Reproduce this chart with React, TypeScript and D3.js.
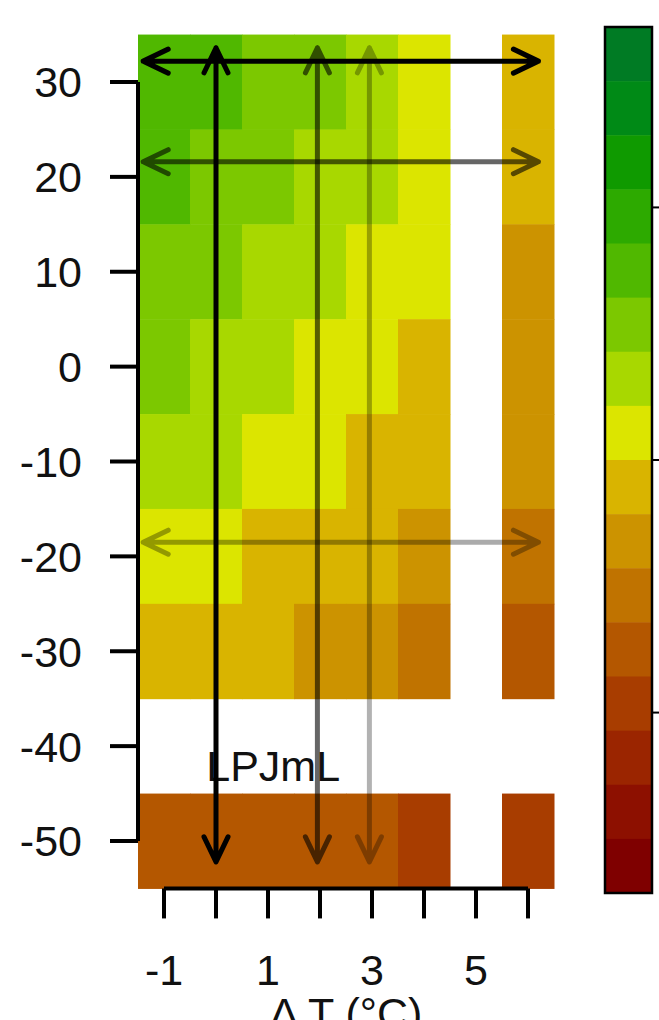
import React from "react";
import * as d3 from "d3";

const width = 659;
const height = 1020;

// precipitation change rows (top to bottom) and temperature change columns
const precipRows = [30, 20, 10, 0, -10, -20, -30, -40, -50];
const tempCols = [-1, 0, 1, 2, 3, 4, 5, 6];

// cell values per row, null = no data
const row30 = [0.5, 0.5, 0.4, 0.4, 0.2, 0.1, null, -0.1];
const row20 = [0.5, 0.4, 0.4, 0.2, 0.2, 0.1, null, -0.1];
const row10 = [0.4, 0.4, 0.2, 0.2, 0.1, 0.1, null, -0.2];
const row0 = [0.4, 0.2, 0.2, 0.1, 0.1, -0.1, null, -0.2];
const rowM10 = [0.2, 0.2, 0.1, 0.1, -0.1, -0.1, null, -0.2];
const rowM20 = [0.1, 0.1, -0.1, -0.1, -0.1, -0.2, null, -0.4];
const rowM30 = [-0.1, -0.1, -0.1, -0.2, -0.2, -0.4, null, -0.5];
const rowM40 = [null, null, null, null, null, null, null, null];
const rowM50 = [-0.5, -0.5, -0.5, -0.5, -0.5, -0.7, null, -0.7];
const cellValues = [row30, row20, row10, row0, rowM10, rowM20, rowM30, rowM40, rowM50];

// colour bar: 16 bins, listed from top (high) to bottom (low)
const binColors = [
  "#007b24", "#008a16", "#0f9a00", "#2daa00",
  "#50b800", "#7cc800", "#a8d800", "#dce500",
  "#d9b400", "#cc9300", "#c07300", "#b45700",
  "#a83d00", "#9b2500", "#8d1000", "#7f0000",
];
const colorDomain: [number, number] = [-1.2, 1.2];
const colorTicks = [-0.7, 0, 0.7];

// arrows
const hArrows = [
  { y: 32.2, alpha: 1 },
  { y: 21.6, alpha: 0.6 },
  { y: -18.5, alpha: 0.33 },
];
const vArrows = [
  { x: 0, alpha: 1 },
  { x: 1.95, alpha: 0.6 },
  { x: 2.95, alpha: 0.3 },
];
const hArrowSpan = [-1.4, 6.2];
const vArrowSpan = [33.6, -52.2];

const xLabels = [-1, 1, 3, 5];

const font = "'Liberation Sans', Arial, Helvetica, sans-serif";

const App = () => {
  const x = d3.scaleLinear().domain([-1, 6]).range([164, 528]);
  const y = d3.scaleLinear().domain([-50, 30]).range([841, 82]);
  const color = d3.scaleQuantize<string>().domain(colorDomain).range([...binColors].reverse());
  const cbY = d3.scaleLinear().domain(colorDomain).range([893, 27]);

  const plotLeft = x(-1.5);
  const plotRight = x(6.5);
  const plotBottom = y(-55);

  const head = 25;
  const half = 12;

  const hPath = (yv: number) => {
    const x0 = x(hArrowSpan[0]);
    const x1 = x(hArrowSpan[1]);
    const yy = y(yv);
    return `M${x0},${yy}L${x1},${yy}` +
      `M${x0 + head},${yy - half}L${x0},${yy}L${x0 + head},${yy + half}` +
      `M${x1 - head},${yy - half}L${x1},${yy}L${x1 - head},${yy + half}`;
  };
  const vPath = (xv: number) => {
    const y0 = y(vArrowSpan[0]);
    const y1 = y(vArrowSpan[1]);
    const xx = x(xv);
    return `M${xx},${y0}L${xx},${y1}` +
      `M${xx - half},${y0 + head}L${xx},${y0}L${xx + half},${y0 + head}` +
      `M${xx - half},${y1 - head}L${xx},${y1}L${xx + half},${y1 - head}`;
  };

  const binStep = (colorDomain[1] - colorDomain[0]) / binColors.length;

  return (
    <svg width={width} height={height} style={{ position: "absolute", left: 0, top: 0, background: "white" }} fontFamily={font}>
      {/* heatmap cells */}
      {cellValues.map((row, ri) =>
        row.map((v, ci) =>
          v === null ? null : (
            <rect
              key={`c${ri}-${ci}`}
              x={x(tempCols[ci] - 0.5)}
              y={y(precipRows[ri] + 5)}
              width={x(0.5) - x(-0.5) + 0.5}
              height={y(-5) - y(5) + 0.5}
              fill={color(v)}
            />
          )
        )
      )}

      <text x={x(1.1)} y={y(-43.7)} fontSize={43} textAnchor="middle" fill="#111">LPJmL</text>

      {/* arrows */}
      {hArrows.map((a, i) => (
        <path key={`h${i}`} d={hPath(a.y)} fill="none" stroke="black" strokeOpacity={a.alpha}
          strokeWidth={5} strokeLinecap="round" strokeLinejoin="round" />
      ))}
      {vArrows.map((a, i) => (
        <path key={`v${i}`} d={vPath(a.x)} fill="none" stroke="black" strokeOpacity={a.alpha}
          strokeWidth={5} strokeLinecap="round" strokeLinejoin="round" />
      ))}

      {/* y axis */}
      <line x1={plotLeft} x2={plotLeft} y1={y(30)} y2={y(-50)} stroke="black" strokeWidth={4} />
      {y.ticks(8).map((t) => (
        <g key={`yt${t}`}>
          <line x1={plotLeft - 28} x2={plotLeft} y1={y(t)} y2={y(t)} stroke="black" strokeWidth={4} />
          <text x={82} y={y(t)} dy="0.36em" fontSize={43} textAnchor="end" fill="#111">{t}</text>
        </g>
      ))}

      {/* x axis */}
      <line x1={x(-1)} x2={x(6)} y1={plotBottom} y2={plotBottom} stroke="black" strokeWidth={4} />
      {tempCols.map((t) => (
        <line key={`xt${t}`} x1={x(t)} x2={x(t)} y1={plotBottom} y2={plotBottom + 30} stroke="black" strokeWidth={4} />
      ))}
      {xLabels.map((t) => (
        <text key={`xl${t}`} x={x(t)} y={985} fontSize={43} textAnchor="middle" fill="#111">{t}</text>
      ))}
      <text x={(plotLeft + plotRight) / 2} y={1028} fontSize={43} textAnchor="middle" fill="#111">Δ T (°C)</text>

      {/* colour bar */}
      {binColors.map((c, i) => {
        const hi = colorDomain[1] - i * binStep;
        return (
          <rect key={`cb${i}`} x={605} y={cbY(hi)} width={47} height={cbY(hi - binStep) - cbY(hi) + 0.5} fill={c} />
        );
      })}
      <rect x={605} y={27} width={47} height={866} fill="none" stroke="black" strokeWidth={2.5} />
      {colorTicks.map((t) => (
        <line key={`ct${t}`} x1={652} x2={670} y1={cbY(t)} y2={cbY(t)} stroke="black" strokeWidth={2} />
      ))}
    </svg>
  );
};

export default App;
